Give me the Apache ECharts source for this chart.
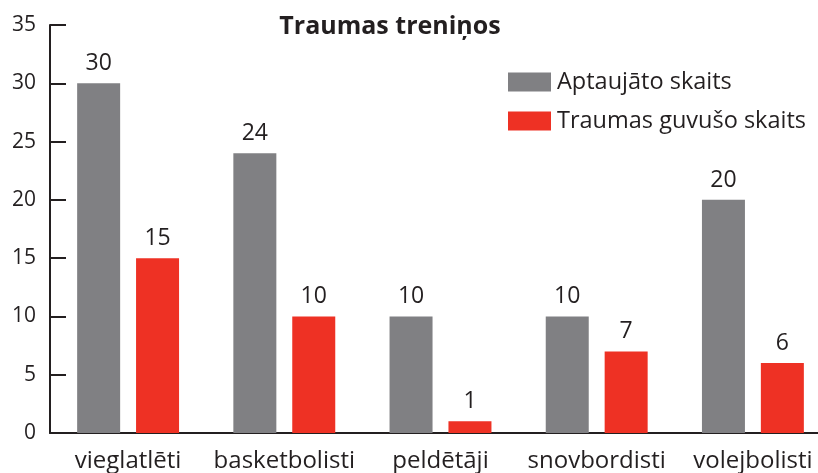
<!DOCTYPE html>
<html>
<head>
<meta charset="utf-8">
<script src="https://cdn.jsdelivr.net/npm/echarts@6/dist/echarts.min.js"></script>
<style>
  html, body { margin: 0; padding: 0; background: #fff; }
  #chart { width: 818px; height: 473px; }
</style>
</head>
<body>
<div id="chart"></div>
<script>
const categories = ['vieglatlēti', 'basketbolisti', 'peldētāji', 'snovbordisti', 'volejbolisti'];
const surveyed = [30, 24, 10, 10, 20];
const injured = [15, 10, 1, 7, 6];
const seriesNames = ['Aptaujāto skaits', 'Traumas guvušo skaits'];

const textColor = '#231f20';
const fontFamily = '"Open Sans", "Noto Sans", sans-serif';

const chart = echarts.init(document.getElementById('chart'));

const labelStyle = {
  show: true,
  position: 'top',
  distance: 8,
  color: textColor,
  fontSize: 23,
  fontFamily
};

chart.setOption({
  animation: false,
  title: {
    text: 'Traumas treniņos',
    left: 385,
    textAlign: 'center',
    top: 9,
    textStyle: { color: textColor, fontSize: 25, fontWeight: 'bold', fontFamily }
  },
  legend: {
    left: 503,
    top: 65,
    orient: 'vertical',
    itemWidth: 43,
    itemHeight: 19,
    itemGap: 15,
    icon: 'rect',
    textStyle: { color: textColor, fontSize: 23.5, fontFamily, padding: [0, 0, 0, 1] },
    data: seriesNames
  },
  grid: { left: 50, top: 25, bottom: 40, right: -13, outerBoundsMode: 'none' },
  xAxis: {
    type: 'category',
    data: categories,
    axisLine: { lineStyle: { color: textColor, width: 2 } },
    axisTick: { show: false },
    axisLabel: { interval: 0, color: textColor, fontSize: 24, fontFamily, margin: 16 }
  },
  yAxis: {
    type: 'value',
    min: 0,
    max: 35,
    interval: 5,
    axisLine: { show: true, lineStyle: { color: textColor, width: 2 } },
    axisTick: { show: true, inside: true, length: 16, lineStyle: { color: textColor, width: 2 } },
    splitLine: { show: false },
    axisLabel: { color: textColor, fontSize: 21, fontFamily, margin: 14 }
  },
  series: [
    {
      name: seriesNames[0],
      type: 'bar',
      data: surveyed,
      barWidth: 43,
      barGap: '37%',
      itemStyle: { color: '#808083' },
      label: labelStyle
    },
    {
      name: seriesNames[1],
      type: 'bar',
      data: injured,
      barWidth: 43,
      itemStyle: { color: '#ee3124' },
      label: labelStyle
    }
  ]
});
</script>
</body>
</html>
